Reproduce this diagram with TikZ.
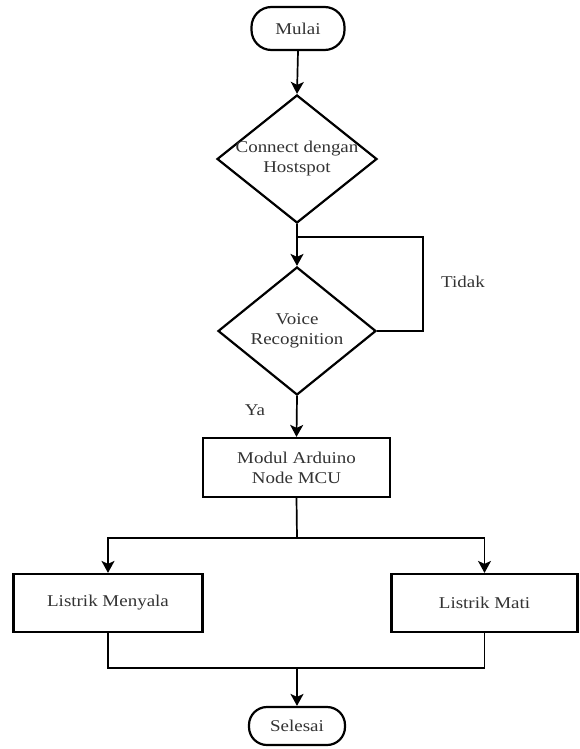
\documentclass[tikz,border=0pt]{standalone}
\usepackage{fontspec}
\setmainfont{Liberation Serif}[FakeStretch=1.15]
\usetikzlibrary{shapes.geometric,arrows.meta}
\begin{document}
\begin{tikzpicture}[x=1pt,y=-1pt,
  every node/.style={font=\fontsize{16.5}{20}\selectfont, text=black!80},
  shp/.style={draw=black, line width=2.2pt, fill=white, inner sep=0pt},
  term/.style={shp, rounded corners=20pt},
  dec/.style={shp, diamond},
  proc/.style={shp, rectangle, align=center},
  txt/.style={align=center, inner sep=0pt},
  conn/.style={draw=black, line width=1.7pt},
  arr/.style={conn, -{Stealth[length=12pt,width=13pt,inset=3pt]}}
]
\useasboundingbox (0,0) rectangle (579,749);

\node[term, minimum width=93pt, minimum height=43pt] (mulai) at (298,28.5) {Mulai};
\node[dec, minimum width=160pt, minimum height=128pt] (d1) at (297,159) {};
\node[txt] at (d1) {Connect dengan\\Hostspot};
\node[dec, minimum width=158pt, minimum height=128pt] (d2) at (297,331) {};
\node[txt] at (d2) {Voice\\Recognition};
\node[proc, minimum width=187pt, minimum height=59pt] (modul) at (296.5,467.5) {Modul Arduino\\Node MCU};
\node[proc, minimum width=189pt, minimum height=58pt] (menyala) at (108,603) {Listrik Menyala};
\node[proc, minimum width=186pt, minimum height=58pt] (mati) at (484.5,603) {Listrik Mati};
\node[term, minimum width=96pt, minimum height=38pt, rounded corners=18pt] (selesai) at (297,726) {Selesai};

\coordinate (j1) at (297,237);
\coordinate (loopc) at (423,237);
\coordinate (split) at (297,538);
\coordinate (merge) at (297,668);

\draw[arr] (mulai.south) -- (d1.north);
\draw[arr] (d1.south) -- (d2.north);
\draw[conn] (d2.east) -| (loopc) -- (j1);
\node[txt] (tidak) at (463,282) {Tidak};
\draw[arr] (d2.south) -- (modul.north);
\node[txt] (ya) at (255,410) {Ya};
\draw[conn] (modul.south) -- (split);
\draw[arr] (split) -| (menyala.north);
\draw[arr] (split) -| (mati.north);
\draw[conn] (menyala.south) |- (merge);
\draw[conn] (mati.south) |- (merge);
\draw[arr] (merge) -- (selesai.north);
\end{tikzpicture}
\end{document}
